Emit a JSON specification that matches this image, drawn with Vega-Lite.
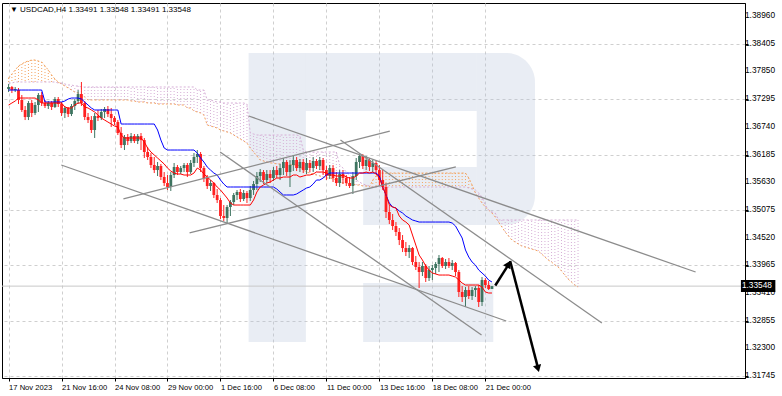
{
"$schema":"https://vega.github.io/schema/vega-lite/v6.json",
"width":743,"height":375,
"autosize":{"type":"none"},
"padding":{"left":2,"top":3,"right":37,"bottom":18},
"background":"white",
"config":{"view":{"stroke":"#000","strokeWidth":1},"axis":{"labelFont":"Liberation Sans","labelFontSize":7.6,"labelColor":"#000","domainColor":"#000","tickColor":"#000","gridColor":"#cfcfcf","gridDash":[3,3]}},
"datasets":{
"wm":[{"i":72.5,"i2":89.8,"p":1.38219,"p2":1.32429},{"i":89.8,"i2":141.4,"p":1.38219,"p2":1.37057},{"i":107.1,"i2":141.4,"p":1.35935,"p2":1.34773},{"i":107.1,"i2":146.4,"p":1.33611,"p2":1.32429}],
"wmr":[{"i":141.4,"i2":159.0,"p":1.38219,"p2":1.34773}],
"pl":[{"p":1.33548}],
"yl":[{"p":1.3896,"v":"1.38960"},{"p":1.38405,"v":"1.38405"},{"p":1.3785,"v":"1.37850"},{"p":1.37295,"v":"1.37295"},{"p":1.3674,"v":"1.36740"},{"p":1.36185,"v":"1.36185"},{"p":1.3563,"v":"1.35630"},{"p":1.35075,"v":"1.35075"},{"p":1.3452,"v":"1.34520"},{"p":1.33965,"v":"1.33965"},{"p":1.3341,"v":"1.33410"},{"p":1.32855,"v":"1.32855"},{"p":1.323,"v":"1.32300"},{"p":1.31745,"v":"1.31745"}],
"bars":[
{"i":0,"o":1.37497,"h":1.37598,"l":1.37437,"c":1.37538,"t":1.37177,"k":1.37477},
{"i":1,"o":1.37538,"h":1.37558,"l":1.37417,"c":1.37477,"t":1.37217,"k":1.37477},
{"i":2,"o":1.37477,"h":1.37538,"l":1.37437,"c":1.37497,"t":1.37257,"k":1.37477},
{"i":3,"o":1.37477,"h":1.37518,"l":1.37197,"c":1.37277,"t":1.37317,"k":1.37477},
{"i":4,"o":1.37277,"h":1.37377,"l":1.37037,"c":1.37077,"t":1.37317,"k":1.37477},
{"i":5,"o":1.37077,"h":1.37157,"l":1.36876,"c":1.36936,"t":1.37317,"k":1.37477},
{"i":6,"o":1.36936,"h":1.37257,"l":1.36876,"c":1.37217,"t":1.37317,"k":1.37477},
{"i":7,"o":1.37217,"h":1.37277,"l":1.36936,"c":1.37017,"t":1.37317,"k":1.37477},
{"i":8,"o":1.37017,"h":1.37237,"l":1.36976,"c":1.37177,"t":1.37317,"k":1.37477},
{"i":9,"o":1.37177,"h":1.37417,"l":1.37037,"c":1.37377,"t":1.37277,"k":1.37477},
{"i":10,"o":1.37377,"h":1.37437,"l":1.37157,"c":1.37217,"t":1.37217,"k":1.37477},
{"i":11,"o":1.37217,"h":1.37277,"l":1.37117,"c":1.37157,"t":1.37217,"k":1.37237},
{"i":12,"o":1.37157,"h":1.37257,"l":1.37097,"c":1.37217,"t":1.37217,"k":1.37237},
{"i":13,"o":1.37217,"h":1.37257,"l":1.37077,"c":1.37137,"t":1.37217,"k":1.37237},
{"i":14,"o":1.37137,"h":1.37337,"l":1.37117,"c":1.37297,"t":1.37217,"k":1.37237},
{"i":15,"o":1.37297,"h":1.37337,"l":1.37137,"c":1.37197,"t":1.37217,"k":1.37237},
{"i":16,"o":1.37197,"h":1.37237,"l":1.36956,"c":1.37017,"t":1.37217,"k":1.37237},
{"i":17,"o":1.37017,"h":1.37157,"l":1.36916,"c":1.37117,"t":1.37137,"k":1.37257},
{"i":18,"o":1.37117,"h":1.37137,"l":1.36936,"c":1.36996,"t":1.37117,"k":1.37297},
{"i":19,"o":1.36996,"h":1.37197,"l":1.36956,"c":1.37157,"t":1.37117,"k":1.37317},
{"i":20,"o":1.37157,"h":1.37297,"l":1.37077,"c":1.37257,"t":1.37177,"k":1.37317},
{"i":21,"o":1.37257,"h":1.37477,"l":1.37197,"c":1.37397,"t":1.37217,"k":1.37317},
{"i":22,"o":1.37397,"h":1.37638,"l":1.37157,"c":1.37217,"t":1.37217,"k":1.37297},
{"i":23,"o":1.37217,"h":1.37257,"l":1.36876,"c":1.36936,"t":1.37137,"k":1.37237},
{"i":24,"o":1.36936,"h":1.37017,"l":1.36816,"c":1.36876,"t":1.37117,"k":1.37177},
{"i":25,"o":1.36876,"h":1.36956,"l":1.36616,"c":1.36676,"t":1.37077,"k":1.37117},
{"i":26,"o":1.36676,"h":1.37017,"l":1.36516,"c":1.36956,"t":1.37037,"k":1.37077},
{"i":27,"o":1.36956,"h":1.37077,"l":1.36856,"c":1.36916,"t":1.36976,"k":1.37077},
{"i":28,"o":1.36916,"h":1.37097,"l":1.36876,"c":1.37037,"t":1.36916,"k":1.37077},
{"i":29,"o":1.37037,"h":1.37137,"l":1.36916,"c":1.37097,"t":1.36876,"k":1.37077},
{"i":30,"o":1.37097,"h":1.37157,"l":1.36936,"c":1.36996,"t":1.36836,"k":1.37077},
{"i":31,"o":1.36996,"h":1.37117,"l":1.36736,"c":1.36916,"t":1.36796,"k":1.37077},
{"i":32,"o":1.36916,"h":1.36956,"l":1.36776,"c":1.36836,"t":1.36756,"k":1.37077},
{"i":33,"o":1.36836,"h":1.36876,"l":1.36576,"c":1.36616,"t":1.36736,"k":1.37077},
{"i":34,"o":1.36616,"h":1.36736,"l":1.36315,"c":1.36375,"t":1.36576,"k":1.36796},
{"i":35,"o":1.36375,"h":1.36576,"l":1.36275,"c":1.36536,"t":1.36516,"k":1.36796},
{"i":36,"o":1.36536,"h":1.36596,"l":1.36375,"c":1.36455,"t":1.36516,"k":1.36796},
{"i":37,"o":1.36455,"h":1.36616,"l":1.36415,"c":1.36556,"t":1.36516,"k":1.36796},
{"i":38,"o":1.36556,"h":1.36596,"l":1.36415,"c":1.36455,"t":1.36516,"k":1.36796},
{"i":39,"o":1.36455,"h":1.36596,"l":1.36395,"c":1.36556,"t":1.36516,"k":1.36796},
{"i":40,"o":1.36556,"h":1.36616,"l":1.36275,"c":1.36475,"t":1.36516,"k":1.36796},
{"i":41,"o":1.36475,"h":1.36516,"l":1.36115,"c":1.36235,"t":1.36435,"k":1.36796},
{"i":42,"o":1.36235,"h":1.36335,"l":1.36075,"c":1.36135,"t":1.36315,"k":1.36796},
{"i":43,"o":1.36135,"h":1.36215,"l":1.35914,"c":1.35975,"t":1.36235,"k":1.36796},
{"i":44,"o":1.35975,"h":1.36135,"l":1.35814,"c":1.35874,"t":1.36175,"k":1.36796},
{"i":45,"o":1.35874,"h":1.36035,"l":1.35754,"c":1.35955,"t":1.36115,"k":1.36676},
{"i":46,"o":1.35955,"h":1.35995,"l":1.35674,"c":1.35734,"t":1.36055,"k":1.36475},
{"i":47,"o":1.35734,"h":1.35834,"l":1.35554,"c":1.35614,"t":1.35995,"k":1.36315},
{"i":48,"o":1.35614,"h":1.35774,"l":1.35474,"c":1.35534,"t":1.35914,"k":1.36275},
{"i":49,"o":1.35534,"h":1.35834,"l":1.35454,"c":1.35774,"t":1.35854,"k":1.36275},
{"i":50,"o":1.35774,"h":1.36015,"l":1.35714,"c":1.35935,"t":1.35814,"k":1.36275},
{"i":51,"o":1.35935,"h":1.35975,"l":1.35774,"c":1.35834,"t":1.35794,"k":1.36275},
{"i":52,"o":1.35834,"h":1.35955,"l":1.35794,"c":1.35914,"t":1.35794,"k":1.36275},
{"i":53,"o":1.35914,"h":1.36015,"l":1.35834,"c":1.35975,"t":1.35774,"k":1.36275},
{"i":54,"o":1.35975,"h":1.36015,"l":1.35734,"c":1.35834,"t":1.35774,"k":1.36275},
{"i":55,"o":1.35834,"h":1.36075,"l":1.35794,"c":1.36015,"t":1.35774,"k":1.36275},
{"i":56,"o":1.36015,"h":1.36215,"l":1.35935,"c":1.36135,"t":1.35814,"k":1.36275},
{"i":57,"o":1.36135,"h":1.36275,"l":1.36015,"c":1.36195,"t":1.35914,"k":1.36215},
{"i":58,"o":1.36195,"h":1.36235,"l":1.35834,"c":1.35914,"t":1.35874,"k":1.36115},
{"i":59,"o":1.35914,"h":1.35955,"l":1.35634,"c":1.35714,"t":1.35794,"k":1.36035},
{"i":60,"o":1.35714,"h":1.35774,"l":1.35494,"c":1.35554,"t":1.35734,"k":1.35935},
{"i":61,"o":1.35554,"h":1.35674,"l":1.35454,"c":1.35614,"t":1.35674,"k":1.35874},
{"i":62,"o":1.35614,"h":1.35634,"l":1.35313,"c":1.35374,"t":1.35614,"k":1.35814},
{"i":63,"o":1.35374,"h":1.35494,"l":1.35213,"c":1.35273,"t":1.35534,"k":1.35774},
{"i":64,"o":1.35273,"h":1.35313,"l":1.34893,"c":1.34953,"t":1.35474,"k":1.35674},
{"i":65,"o":1.34953,"h":1.35173,"l":1.34853,"c":1.34913,"t":1.35394,"k":1.35594},
{"i":66,"o":1.34913,"h":1.35173,"l":1.34812,"c":1.35133,"t":1.35313,"k":1.35534},
{"i":67,"o":1.35133,"h":1.35273,"l":1.34953,"c":1.35233,"t":1.35213,"k":1.35534},
{"i":68,"o":1.35233,"h":1.35414,"l":1.35173,"c":1.35374,"t":1.35173,"k":1.35534},
{"i":69,"o":1.35374,"h":1.35474,"l":1.35273,"c":1.35434,"t":1.35173,"k":1.35534},
{"i":70,"o":1.35434,"h":1.35494,"l":1.35233,"c":1.35293,"t":1.35173,"k":1.35534},
{"i":71,"o":1.35293,"h":1.35474,"l":1.35253,"c":1.35414,"t":1.35173,"k":1.35534},
{"i":72,"o":1.35414,"h":1.35454,"l":1.35213,"c":1.35313,"t":1.35173,"k":1.35534},
{"i":73,"o":1.35313,"h":1.35554,"l":1.35253,"c":1.35474,"t":1.35173,"k":1.35534},
{"i":74,"o":1.35474,"h":1.35654,"l":1.35374,"c":1.35594,"t":1.35273,"k":1.35534},
{"i":75,"o":1.35594,"h":1.35834,"l":1.35474,"c":1.35754,"t":1.35434,"k":1.35534},
{"i":76,"o":1.35754,"h":1.35894,"l":1.35634,"c":1.35834,"t":1.35534,"k":1.35534},
{"i":77,"o":1.35834,"h":1.35874,"l":1.35594,"c":1.35674,"t":1.35574,"k":1.35534},
{"i":78,"o":1.35674,"h":1.35874,"l":1.35614,"c":1.35794,"t":1.35614,"k":1.35534},
{"i":79,"o":1.35794,"h":1.35874,"l":1.35614,"c":1.35714,"t":1.35634,"k":1.35534},
{"i":80,"o":1.35714,"h":1.35935,"l":1.35654,"c":1.35874,"t":1.35674,"k":1.35534},
{"i":81,"o":1.35874,"h":1.35955,"l":1.35714,"c":1.35774,"t":1.35714,"k":1.35494},
{"i":82,"o":1.35774,"h":1.35995,"l":1.35674,"c":1.35914,"t":1.35714,"k":1.35434},
{"i":83,"o":1.35914,"h":1.36115,"l":1.35774,"c":1.36035,"t":1.35734,"k":1.35374},
{"i":84,"o":1.36035,"h":1.36075,"l":1.35754,"c":1.35834,"t":1.35734,"k":1.35374},
{"i":85,"o":1.35834,"h":1.36075,"l":1.35534,"c":1.35975,"t":1.35734,"k":1.35374},
{"i":86,"o":1.35975,"h":1.36175,"l":1.35854,"c":1.36075,"t":1.35774,"k":1.35374},
{"i":87,"o":1.36075,"h":1.36135,"l":1.35854,"c":1.35914,"t":1.35774,"k":1.35394},
{"i":88,"o":1.35914,"h":1.36095,"l":1.35834,"c":1.36035,"t":1.35734,"k":1.35434},
{"i":89,"o":1.36035,"h":1.36095,"l":1.35814,"c":1.35874,"t":1.35754,"k":1.35474},
{"i":90,"o":1.35874,"h":1.36115,"l":1.35794,"c":1.36015,"t":1.35774,"k":1.35514},
{"i":91,"o":1.36015,"h":1.36075,"l":1.35834,"c":1.35914,"t":1.35774,"k":1.35534},
{"i":92,"o":1.35914,"h":1.36135,"l":1.35834,"c":1.36055,"t":1.35794,"k":1.35594},
{"i":93,"o":1.36055,"h":1.36095,"l":1.35894,"c":1.35955,"t":1.35834,"k":1.35674},
{"i":94,"o":1.35955,"h":1.36135,"l":1.35874,"c":1.36075,"t":1.35834,"k":1.35674},
{"i":95,"o":1.36075,"h":1.36115,"l":1.35774,"c":1.35874,"t":1.35834,"k":1.35714},
{"i":96,"o":1.35874,"h":1.35955,"l":1.35674,"c":1.35754,"t":1.35814,"k":1.35774},
{"i":97,"o":1.35754,"h":1.35975,"l":1.35694,"c":1.35914,"t":1.35774,"k":1.35814},
{"i":98,"o":1.35914,"h":1.35975,"l":1.35634,"c":1.35714,"t":1.35774,"k":1.35814},
{"i":99,"o":1.35714,"h":1.35834,"l":1.35554,"c":1.35614,"t":1.35754,"k":1.35814},
{"i":100,"o":1.35614,"h":1.35874,"l":1.35534,"c":1.35794,"t":1.35754,"k":1.35814},
{"i":101,"o":1.35794,"h":1.35874,"l":1.35594,"c":1.35714,"t":1.35774,"k":1.35814},
{"i":102,"o":1.35714,"h":1.35774,"l":1.35554,"c":1.35614,"t":1.35734,"k":1.35814},
{"i":103,"o":1.35614,"h":1.35734,"l":1.35514,"c":1.35554,"t":1.35714,"k":1.35814},
{"i":104,"o":1.35554,"h":1.35834,"l":1.35394,"c":1.35754,"t":1.35714,"k":1.35814},
{"i":105,"o":1.35754,"h":1.36115,"l":1.35674,"c":1.36035,"t":1.35754,"k":1.35814},
{"i":106,"o":1.36035,"h":1.36215,"l":1.35914,"c":1.36155,"t":1.35814,"k":1.35814},
{"i":107,"o":1.36155,"h":1.36195,"l":1.35894,"c":1.35955,"t":1.35814,"k":1.35814},
{"i":108,"o":1.35955,"h":1.36155,"l":1.35874,"c":1.36075,"t":1.35834,"k":1.35814},
{"i":109,"o":1.36075,"h":1.36115,"l":1.35854,"c":1.35935,"t":1.35814,"k":1.35814},
{"i":110,"o":1.35935,"h":1.36075,"l":1.35834,"c":1.36015,"t":1.35834,"k":1.35814},
{"i":111,"o":1.36015,"h":1.36075,"l":1.35794,"c":1.35874,"t":1.35794,"k":1.35814},
{"i":112,"o":1.35874,"h":1.35975,"l":1.35554,"c":1.35674,"t":1.35714,"k":1.35754},
{"i":113,"o":1.35674,"h":1.35874,"l":1.35474,"c":1.35534,"t":1.35534,"k":1.35534},
{"i":114,"o":1.35534,"h":1.35614,"l":1.34913,"c":1.35033,"t":1.35374,"k":1.35374},
{"i":115,"o":1.35033,"h":1.35173,"l":1.34792,"c":1.34873,"t":1.35173,"k":1.35213},
{"i":116,"o":1.34873,"h":1.34993,"l":1.34672,"c":1.34752,"t":1.35133,"k":1.35133},
{"i":117,"o":1.34752,"h":1.34832,"l":1.34552,"c":1.34632,"t":1.35113,"k":1.35113},
{"i":118,"o":1.34632,"h":1.34712,"l":1.34371,"c":1.34472,"t":1.34953,"k":1.35053},
{"i":119,"o":1.34472,"h":1.34572,"l":1.34231,"c":1.34311,"t":1.34873,"k":1.35013},
{"i":120,"o":1.34311,"h":1.34432,"l":1.34151,"c":1.34231,"t":1.34832,"k":1.34953},
{"i":121,"o":1.34231,"h":1.34371,"l":1.34111,"c":1.34311,"t":1.34772,"k":1.34913},
{"i":122,"o":1.34311,"h":1.34331,"l":1.33971,"c":1.34031,"t":1.34572,"k":1.34873},
{"i":123,"o":1.34031,"h":1.34151,"l":1.33871,"c":1.33931,"t":1.34371,"k":1.34853},
{"i":124,"o":1.33931,"h":1.34031,"l":1.33510,"c":1.33831,"t":1.34171,"k":1.34832},
{"i":125,"o":1.33831,"h":1.34031,"l":1.33750,"c":1.33951,"t":1.34071,"k":1.34832},
{"i":126,"o":1.33951,"h":1.33991,"l":1.33630,"c":1.33710,"t":1.33951,"k":1.34832},
{"i":127,"o":1.33710,"h":1.33951,"l":1.33650,"c":1.33871,"t":1.33871,"k":1.34832},
{"i":128,"o":1.33871,"h":1.33971,"l":1.33670,"c":1.33911,"t":1.33811,"k":1.34832},
{"i":129,"o":1.33911,"h":1.34031,"l":1.33791,"c":1.33991,"t":1.33791,"k":1.34832},
{"i":130,"o":1.33991,"h":1.34171,"l":1.33831,"c":1.34111,"t":1.33770,"k":1.34832},
{"i":131,"o":1.34111,"h":1.34131,"l":1.33911,"c":1.33951,"t":1.33770,"k":1.34832},
{"i":132,"o":1.33951,"h":1.34091,"l":1.33891,"c":1.34031,"t":1.33770,"k":1.34832},
{"i":133,"o":1.34031,"h":1.34111,"l":1.33911,"c":1.33951,"t":1.33770,"k":1.34832},
{"i":134,"o":1.33951,"h":1.34071,"l":1.33871,"c":1.34011,"t":1.33750,"k":1.34812},
{"i":135,"o":1.34011,"h":1.34031,"l":1.33750,"c":1.33831,"t":1.33730,"k":1.34752},
{"i":136,"o":1.33831,"h":1.33871,"l":1.33330,"c":1.33430,"t":1.33670,"k":1.34632},
{"i":137,"o":1.33430,"h":1.33550,"l":1.33230,"c":1.33330,"t":1.33610,"k":1.34512},
{"i":138,"o":1.33330,"h":1.33530,"l":1.33130,"c":1.33470,"t":1.33570,"k":1.34271},
{"i":139,"o":1.33470,"h":1.33550,"l":1.33290,"c":1.33350,"t":1.33570,"k":1.34131},
{"i":140,"o":1.33350,"h":1.33530,"l":1.33270,"c":1.33470,"t":1.33570,"k":1.34031},
{"i":141,"o":1.33470,"h":1.33550,"l":1.33330,"c":1.33510,"t":1.33570,"k":1.33971},
{"i":142,"o":1.33510,"h":1.33570,"l":1.33130,"c":1.33230,"t":1.33570,"k":1.33871},
{"i":143,"o":1.33230,"h":1.33730,"l":1.33150,"c":1.33670,"t":1.33530,"k":1.33811},
{"i":144,"o":1.33670,"h":1.33710,"l":1.33510,"c":1.33570,"t":1.33430,"k":1.33750},
{"i":145,"o":1.33570,"h":1.33650,"l":1.33470,"c":1.33491,"t":1.33410,"k":1.33670},
{"i":146,"o":1.33491,"h":1.33548,"l":1.33491,"c":1.33548,"t":1.33410,"k":1.33630}
],
"cloud":[
{"i":0,"a":1.37718,"b":1.37618},{"i":1,"a":1.37798,"b":1.37618},{"i":2,"a":1.37878,"b":1.37638},{"i":3,"a":1.37959,"b":1.37638},{"i":4,"a":1.37999,"b":1.37638},{"i":5,"a":1.38039,"b":1.37638},{"i":6,"a":1.38059,"b":1.37638},{"i":7,"a":1.38079,"b":1.37638},{"i":8,"a":1.38079,"b":1.37638},{"i":9,"a":1.38059,"b":1.37638},{"i":10,"a":1.38039,"b":1.37638},{"i":11,"a":1.37959,"b":1.37638},{"i":12,"a":1.37878,"b":1.37638},{"i":13,"a":1.37778,"b":1.37638},{"i":14,"a":1.37698,"b":1.37638},{"i":15,"a":1.37638,"b":1.37618},{"i":16,"a":1.37598,"b":1.37618},{"i":17,"a":1.37558,"b":1.37598},{"i":18,"a":1.37518,"b":1.37578},{"i":19,"a":1.37477,"b":1.37578},{"i":20,"a":1.37437,"b":1.37558},{"i":21,"a":1.37417,"b":1.37558},{"i":22,"a":1.37377,"b":1.37538},{"i":23,"a":1.37337,"b":1.37538},
{"i":24,"a":1.37277,"b":1.37538},{"i":25,"a":1.37277,"b":1.37538},{"i":26,"a":1.37277,"b":1.37538},{"i":27,"a":1.37277,"b":1.37538},{"i":28,"a":1.37277,"b":1.37538},{"i":29,"a":1.37277,"b":1.37538},{"i":30,"a":1.37277,"b":1.37538},{"i":31,"a":1.37277,"b":1.37538},{"i":32,"a":1.37277,"b":1.37538},{"i":33,"a":1.37277,"b":1.37538},{"i":34,"a":1.37277,"b":1.37538},{"i":35,"a":1.37277,"b":1.37538},{"i":36,"a":1.37277,"b":1.37538},{"i":37,"a":1.37257,"b":1.37538},{"i":38,"a":1.37257,"b":1.37538},{"i":39,"a":1.37237,"b":1.37538},{"i":40,"a":1.37237,"b":1.37538},{"i":41,"a":1.37237,"b":1.37538},{"i":42,"a":1.37217,"b":1.37538},{"i":43,"a":1.37217,"b":1.37538},{"i":44,"a":1.37217,"b":1.37538},{"i":45,"a":1.37197,"b":1.37538},{"i":46,"a":1.37197,"b":1.37538},{"i":47,"a":1.37197,"b":1.37538},{"i":48,"a":1.37197,"b":1.37538},{"i":49,"a":1.37197,"b":1.37538},{"i":50,"a":1.37197,"b":1.37538},{"i":51,"a":1.37177,"b":1.37538},{"i":52,"a":1.37177,"b":1.37538},{"i":53,"a":1.37177,"b":1.37538},{"i":54,"a":1.37117,"b":1.37538},{"i":55,"a":1.37117,"b":1.37538},{"i":56,"a":1.37057,"b":1.37538},{"i":57,"a":1.37037,"b":1.37477},{"i":58,"a":1.37017,"b":1.37477},{"i":59,"a":1.36976,"b":1.37477},
{"i":60,"a":1.36776,"b":1.37277},{"i":61,"a":1.36756,"b":1.37277},{"i":62,"a":1.36736,"b":1.37257},{"i":63,"a":1.36716,"b":1.37237},{"i":64,"a":1.36676,"b":1.37237},{"i":65,"a":1.36656,"b":1.37217},{"i":66,"a":1.36636,"b":1.37217},{"i":67,"a":1.36616,"b":1.37217},{"i":68,"a":1.36576,"b":1.37217},{"i":69,"a":1.36536,"b":1.37217},{"i":70,"a":1.36495,"b":1.37217},{"i":71,"a":1.36455,"b":1.37217},{"i":72,"a":1.36415,"b":1.37197},
{"i":73,"a":1.36315,"b":1.36616},{"i":74,"a":1.36235,"b":1.36596},{"i":75,"a":1.36155,"b":1.36576},{"i":76,"a":1.36075,"b":1.36576},{"i":77,"a":1.36055,"b":1.36576},{"i":78,"a":1.36035,"b":1.36576},{"i":79,"a":1.36015,"b":1.36576},{"i":80,"a":1.36015,"b":1.36576},{"i":81,"a":1.35995,"b":1.36576},{"i":82,"a":1.35995,"b":1.36576},{"i":83,"a":1.35975,"b":1.36576},{"i":84,"a":1.35975,"b":1.36576},{"i":85,"a":1.35975,"b":1.36576},{"i":86,"a":1.35975,"b":1.36576},{"i":87,"a":1.35975,"b":1.36576},{"i":88,"a":1.35955,"b":1.36556},
{"i":89,"a":1.35874,"b":1.36275},{"i":90,"a":1.35834,"b":1.36235},{"i":91,"a":1.35814,"b":1.36235},{"i":92,"a":1.35794,"b":1.36235},{"i":93,"a":1.35774,"b":1.36235},{"i":94,"a":1.35754,"b":1.36235},{"i":95,"a":1.35734,"b":1.36235},{"i":96,"a":1.35714,"b":1.36235},{"i":97,"a":1.35714,"b":1.36235},{"i":98,"a":1.35694,"b":1.36235},{"i":99,"a":1.35674,"b":1.36235},
{"i":100,"a":1.35634,"b":1.35975},{"i":101,"a":1.35614,"b":1.35914},{"i":102,"a":1.35614,"b":1.35834},{"i":103,"a":1.35594,"b":1.35774},{"i":104,"a":1.35594,"b":1.35714},{"i":105,"a":1.35574,"b":1.35674},{"i":106,"a":1.35574,"b":1.35634},{"i":107,"a":1.35554,"b":1.35594},{"i":108,"a":1.35554,"b":1.35574},{"i":109,"a":1.35534,"b":1.35554},{"i":110,"a":1.35674,"b":1.35534},{"i":111,"a":1.35754,"b":1.35534},
{"i":112,"a":1.35814,"b":1.35534},{"i":113,"a":1.35814,"b":1.35534},{"i":114,"a":1.35814,"b":1.35534},{"i":115,"a":1.35814,"b":1.35534},{"i":116,"a":1.35814,"b":1.35534},{"i":117,"a":1.35814,"b":1.35534},{"i":118,"a":1.35814,"b":1.35534},{"i":119,"a":1.35814,"b":1.35534},{"i":120,"a":1.35814,"b":1.35534},{"i":121,"a":1.35814,"b":1.35534},{"i":122,"a":1.35814,"b":1.35534},{"i":123,"a":1.35814,"b":1.35534},{"i":124,"a":1.35814,"b":1.35534},{"i":125,"a":1.35814,"b":1.35534},{"i":126,"a":1.35814,"b":1.35534},{"i":127,"a":1.35814,"b":1.35534},{"i":128,"a":1.35814,"b":1.35534},{"i":129,"a":1.35814,"b":1.35534},{"i":130,"a":1.35814,"b":1.35534},{"i":131,"a":1.35814,"b":1.35534},{"i":132,"a":1.35814,"b":1.35534},{"i":133,"a":1.35814,"b":1.35534},{"i":134,"a":1.35814,"b":1.35534},{"i":135,"a":1.35814,"b":1.35534},{"i":136,"a":1.35814,"b":1.35534},{"i":137,"a":1.35814,"b":1.35534},{"i":138,"a":1.35814,"b":1.35534},
{"i":139,"a":1.35714,"b":1.35514},{"i":140,"a":1.35574,"b":1.35494},{"i":141,"a":1.35414,"b":1.35474},{"i":142,"a":1.35313,"b":1.35414},{"i":143,"a":1.35213,"b":1.35333},{"i":144,"a":1.35133,"b":1.35173},{"i":145,"a":1.35073,"b":1.35073},{"i":146,"a":1.35013,"b":1.35033},{"i":147,"a":1.34933,"b":1.35013},
{"i":148,"a":1.34832,"b":1.34873},{"i":149,"a":1.34732,"b":1.34873},{"i":150,"a":1.34632,"b":1.34873},{"i":151,"a":1.34552,"b":1.34873},{"i":152,"a":1.34472,"b":1.34873},{"i":153,"a":1.34432,"b":1.34873},{"i":154,"a":1.34391,"b":1.34873},{"i":155,"a":1.34351,"b":1.34873},{"i":156,"a":1.34331,"b":1.34873},{"i":157,"a":1.34311,"b":1.34873},{"i":158,"a":1.34291,"b":1.34873},{"i":159,"a":1.34271,"b":1.34873},{"i":160,"a":1.34251,"b":1.34873},{"i":161,"a":1.34191,"b":1.34873},{"i":162,"a":1.34131,"b":1.34873},{"i":163,"a":1.34071,"b":1.34873},{"i":164,"a":1.34031,"b":1.34873},{"i":165,"a":1.33971,"b":1.34873},{"i":166,"a":1.33931,"b":1.34873},{"i":167,"a":1.33851,"b":1.34873},{"i":168,"a":1.33770,"b":1.34873},{"i":169,"a":1.33690,"b":1.34873},{"i":170,"a":1.33630,"b":1.34873},{"i":171,"a":1.33570,"b":1.34873},{"i":172,"a":1.33530,"b":1.34873}
],
"tl":[
{"id":"L1","i":15.91,"p":1.35975},{"id":"L1","i":150.3,"p":1.32849},
{"id":"L2","i":34.68,"p":1.35294},{"id":"L2","i":115.14,"p":1.36656},
{"id":"L3","i":54.65,"p":1.34613},{"id":"L3","i":135.1,"p":1.35935},
{"id":"L4","i":63.89,"p":1.36236},{"id":"L4","i":142.85,"p":1.32569},
{"id":"L5","i":72.53,"p":1.36957},{"id":"L5","i":207.51,"p":1.33831},
{"id":"L6","i":100.24,"p":1.36476},{"id":"L6","i":179.2,"p":1.32809}
],
"ar":[
{"id":"A1","i":147.0,"p":1.3356},{"id":"A1","i":151.2,"p":1.3400},
{"id":"A2","i":151.5,"p":1.34052},{"id":"A2","i":159.9,"p":1.3191}
],
"h1":[{"i":151.0,"p":1.3399}],
"h2":[{"i":159.9,"p":1.31896}],
"pb":[{"i":221.2,"i2":231.6,"p":1.33671,"p2":1.33431,"pm":1.33551,"v":"1.33548"}],
"ttl":[{"i":0.4,"p":1.39081,"s":"▼ USDCAD,H4  1.33491 1.33548 1.33491 1.33548"}]
},
"layer":[
{"data":{"name":"wm"},"mark":{"type":"rect","color":"#b6c4dc","opacity":0.3},
 "encoding":{
  "x":{"field":"i","type":"quantitative","scale":{"domain":[-0.477,220.92],"nice":false,"zero":false},"title":null,
   "axis":{"values":[0,16,32,48,64,80,96,112,128,144],"labelExpr":"['17 Nov 2023','21 Nov 16:00','24 Nov 08:00','29 Nov 00:00','1 Dec 16:00','6 Dec 08:00','11 Dec 00:00','13 Dec 16:00','18 Dec 08:00','21 Dec 00:00'][round(datum.value/16)]","labelAlign":"left","labelPadding":2,"tickSize":3,"grid":true,"labelFlush":false,"labelOverlap":false}},
  "x2":{"field":"i2"},
  "y":{"field":"p","type":"quantitative","scale":{"domain":[1.31707,1.39221],"nice":false,"zero":false},"title":null,
   "axis":{"orient":"right","values":[1.3896,1.38405,1.3785,1.37295,1.3674,1.36185,1.3563,1.35075,1.3452,1.33965,1.3341,1.32855,1.323,1.31745],"labels":false,"tickSize":3,"grid":true}},
  "y2":{"field":"p2"}}},
{"data":{"name":"wmr"},"mark":{"type":"rect","color":"#b6c4dc","opacity":0.3,"cornerRadiusTopRight":30,"cornerRadiusBottomRight":30},
 "encoding":{"x":{"field":"i","type":"quantitative","scale":{"domain":[-0.477,220.92],"nice":false,"zero":false},"title":null},"x2":{"field":"i2"},
  "y":{"field":"p","type":"quantitative","scale":{"domain":[1.31707,1.39221],"nice":false,"zero":false},"title":null},"y2":{"field":"p2"}}},
{"data":{"name":"pl"},"mark":{"type":"rule","color":"#c8c8c8","strokeWidth":1},
 "encoding":{"y":{"field":"p","type":"quantitative","scale":{"domain":[1.31707,1.39221],"nice":false,"zero":false},"title":null}}},
{"data":{"name":"cloud"},"mark":{"type":"rule","strokeWidth":1,"strokeDash":[1,2]},
 "encoding":{"x":{"field":"i","type":"quantitative","scale":{"domain":[-0.477,220.92],"nice":false,"zero":false},"title":null},
  "y":{"field":"a","type":"quantitative","scale":{"domain":[1.31707,1.39221],"nice":false,"zero":false},"title":null},"y2":{"field":"b"},
  "color":{"condition":{"test":"datum.a > datum.b","value":"#f4a460"},"value":"#d6aed6"}}},
{"data":{"name":"cloud"},"mark":{"type":"line","color":"#f4a460","strokeWidth":1,"strokeDash":[2,2]},
 "encoding":{"x":{"field":"i","type":"quantitative","scale":{"domain":[-0.477,220.92],"nice":false,"zero":false},"title":null},
  "y":{"field":"a","type":"quantitative","scale":{"domain":[1.31707,1.39221],"nice":false,"zero":false},"title":null}}},
{"data":{"name":"cloud"},"mark":{"type":"line","color":"#d6aed6","strokeWidth":1,"strokeDash":[2,2]},
 "encoding":{"x":{"field":"i","type":"quantitative","scale":{"domain":[-0.477,220.92],"nice":false,"zero":false},"title":null},
  "y":{"field":"b","type":"quantitative","scale":{"domain":[1.31707,1.39221],"nice":false,"zero":false},"title":null}}},
{"data":{"name":"bars"},"mark":{"type":"rule","strokeWidth":1},
 "encoding":{"x":{"field":"i","type":"quantitative","scale":{"domain":[-0.477,220.92],"nice":false,"zero":false},"title":null},
  "y":{"field":"l","type":"quantitative","scale":{"domain":[1.31707,1.39221],"nice":false,"zero":false},"title":null},"y2":{"field":"h"},
  "color":{"condition":{"test":"datum.c >= datum.o","value":"#3e7460"},"value":"#ff2020"}}},
{"data":{"name":"bars"},"mark":{"type":"bar","size":2.8},
 "encoding":{"x":{"field":"i","type":"quantitative","scale":{"domain":[-0.477,220.92],"nice":false,"zero":false},"title":null},
  "y":{"field":"o","type":"quantitative","scale":{"domain":[1.31707,1.39221],"nice":false,"zero":false},"title":null},"y2":{"field":"c"},
  "color":{"condition":{"test":"datum.c >= datum.o","value":"#3e7460"},"value":"#ff2020"}}},
{"data":{"name":"bars"},"mark":{"type":"line","color":"#0000ff","strokeWidth":1},
 "encoding":{"x":{"field":"i","type":"quantitative","scale":{"domain":[-0.477,220.92],"nice":false,"zero":false},"title":null},
  "y":{"field":"k","type":"quantitative","scale":{"domain":[1.31707,1.39221],"nice":false,"zero":false},"title":null}}},
{"data":{"name":"bars"},"mark":{"type":"line","color":"#ff0000","strokeWidth":1},
 "encoding":{"x":{"field":"i","type":"quantitative","scale":{"domain":[-0.477,220.92],"nice":false,"zero":false},"title":null},
  "y":{"field":"t","type":"quantitative","scale":{"domain":[1.31707,1.39221],"nice":false,"zero":false},"title":null}}},
{"data":{"name":"tl"},"mark":{"type":"line","color":"#8c8c8c","strokeWidth":1.3},
 "encoding":{"x":{"field":"i","type":"quantitative","scale":{"domain":[-0.477,220.92],"nice":false,"zero":false},"title":null},
  "y":{"field":"p","type":"quantitative","scale":{"domain":[1.31707,1.39221],"nice":false,"zero":false},"title":null},"detail":{"field":"id"}}},
{"data":{"name":"ar"},"mark":{"type":"line","color":"#000000","strokeWidth":2.5},
 "encoding":{"x":{"field":"i","type":"quantitative","scale":{"domain":[-0.477,220.92],"nice":false,"zero":false},"title":null},
  "y":{"field":"p","type":"quantitative","scale":{"domain":[1.31707,1.39221],"nice":false,"zero":false},"title":null},"detail":{"field":"id"}}},
{"data":{"name":"h1"},"mark":{"type":"point","shape":"triangle-up","filled":true,"color":"#000","size":70,"angle":28,"opacity":1},
 "encoding":{"x":{"field":"i","type":"quantitative","scale":{"domain":[-0.477,220.92],"nice":false,"zero":false},"title":null},
  "y":{"field":"p","type":"quantitative","scale":{"domain":[1.31707,1.39221],"nice":false,"zero":false},"title":null}}},
{"data":{"name":"h2"},"mark":{"type":"point","shape":"triangle-up","filled":true,"color":"#000","size":70,"angle":165,"opacity":1},
 "encoding":{"x":{"field":"i","type":"quantitative","scale":{"domain":[-0.477,220.92],"nice":false,"zero":false},"title":null},
  "y":{"field":"p","type":"quantitative","scale":{"domain":[1.31707,1.39221],"nice":false,"zero":false},"title":null}}},
{"data":{"name":"yl"},"mark":{"type":"text","color":"#000","font":"Liberation Sans","fontSize":8.3,"align":"left","baseline":"middle","dx":5},
 "encoding":{"x":{"datum":220.92,"type":"quantitative","scale":{"domain":[-0.477,220.92],"nice":false,"zero":false},"title":null},
  "y":{"field":"p","type":"quantitative","scale":{"domain":[1.31707,1.39221],"nice":false,"zero":false},"title":null},"text":{"field":"v"}}},
{"data":{"name":"pb"},"mark":{"type":"rect","color":"#000"},
 "encoding":{"x":{"field":"i","type":"quantitative","scale":{"domain":[-0.477,220.92],"nice":false,"zero":false},"title":null},"x2":{"field":"i2"},
  "y":{"field":"p","type":"quantitative","scale":{"domain":[1.31707,1.39221],"nice":false,"zero":false},"title":null},"y2":{"field":"p2"}}},
{"data":{"name":"pb"},"mark":{"type":"text","color":"#fff","font":"Liberation Sans","fontSize":8.3,"align":"left","baseline":"middle","dx":1},
 "encoding":{"x":{"field":"i","type":"quantitative","scale":{"domain":[-0.477,220.92],"nice":false,"zero":false},"title":null},
  "y":{"field":"pm","type":"quantitative","scale":{"domain":[1.31707,1.39221],"nice":false,"zero":false},"title":null},"text":{"field":"v"}}},
{"data":{"name":"ttl"},"mark":{"type":"text","color":"#000","font":"Liberation Sans","fontSize":8,"align":"left","baseline":"middle"},
 "encoding":{"x":{"field":"i","type":"quantitative","scale":{"domain":[-0.477,220.92],"nice":false,"zero":false},"title":null},
  "y":{"field":"p","type":"quantitative","scale":{"domain":[1.31707,1.39221],"nice":false,"zero":false},"title":null},"text":{"field":"s"}}}
]
}
